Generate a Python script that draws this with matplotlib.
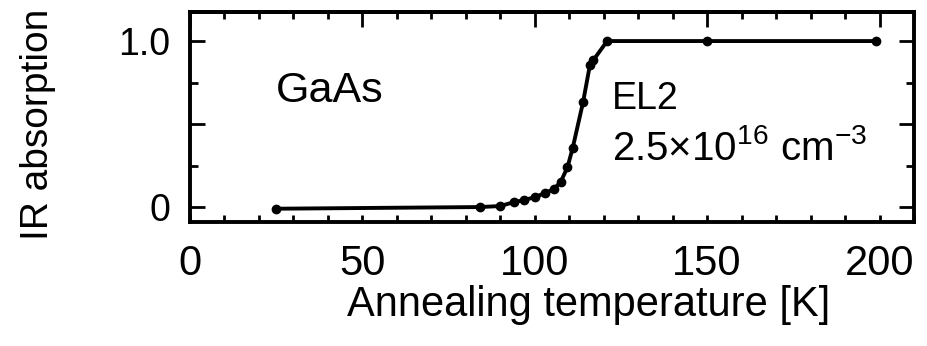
import matplotlib
matplotlib.use("Agg")
import matplotlib.pyplot as plt
from matplotlib.ticker import MultipleLocator, FixedLocator

plt.rcParams['font.family'] = ['Liberation Sans', 'DejaVu Sans']
plt.rcParams['mathtext.fontset'] = 'custom'
plt.rcParams['mathtext.rm'] = 'Liberation Sans'
plt.rcParams['mathtext.it'] = 'Liberation Sans:italic'
plt.rcParams['mathtext.bf'] = 'Liberation Sans:bold'

# Annealing temperature (K) and normalised EL2 IR absorption
temperature = [25, 84, 90, 94, 97, 100, 103, 105.5, 107.5, 109.5, 111, 114, 116, 117, 121, 150, 199]
absorption = [-0.01, 0.0, 0.006, 0.03, 0.042, 0.06, 0.084, 0.108, 0.15, 0.24, 0.355, 0.63, 0.855, 0.885, 1.0, 1.0, 1.0]

x_major = [0, 50, 100, 150, 200]
y_labels = {0: "0", 1.0: "1.0"}

fig = plt.figure(figsize=(9.28, 3.46), dpi=100)
ax = fig.add_axes([0.2047, 0.3584, 0.7802, 0.6069])

ax.plot(temperature, absorption, color='black', lw=2.8, marker='o', ms=6,
        solid_capstyle='round')

ax.set_xlim(0, 210)
ax.set_ylim(-0.09, 1.175)

ax.xaxis.set_major_locator(FixedLocator(x_major))
ax.xaxis.set_minor_locator(MultipleLocator(10))
ax.yaxis.set_major_locator(FixedLocator(list(y_labels.keys()) + [0.5]))
ax.yaxis.set_minor_locator(MultipleLocator(0.25))
ax.set_yticklabels([y_labels.get(v, "") for v in ax.get_yticks()])

for s in ax.spines.values():
    s.set_linewidth(2.8)

ax.tick_params(axis='x', which='both', direction='in', length=5, width=2.0,
               bottom=True, top=False, labelsize=30, pad=16)
ax.tick_params(axis='y', which='major', direction='in', length=11, width=2.0,
               left=True, right=True, labelsize=27, pad=14)
ax.tick_params(axis='y', which='minor', direction='in', length=6, width=2.0,
               left=True, right=True)

# top axis: longer ticks at the labelled positions
top = ax.secondary_xaxis('top')
top.xaxis.set_major_locator(FixedLocator(x_major))
top.xaxis.set_minor_locator(MultipleLocator(10))
top.tick_params(which='major', direction='in', length=11, width=2.0, labeltop=False)
top.tick_params(which='minor', direction='in', length=5, width=2.0)
top.spines['top'].set_linewidth(2.8)

fig.text(0.634, 0.087, "Annealing temperature [K]", fontsize=30,
         ha='center', va='baseline')
fig.text(0.041, 0.64, "IR absorption", fontsize=28, rotation=90,
         ha='center', va='center')

ax.text(25, 0.633, "GaAs", fontsize=31, va='baseline', ha='left')
ax.text(122.5, 0.59, "EL2", fontsize=27, va='baseline', ha='left')
ax.text(122.5, 0.283, r"2.5×10$^{16}$ cm$^{-3}$", fontsize=29,
        va='baseline', ha='left')

fig.savefig("out.png", dpi=100)
